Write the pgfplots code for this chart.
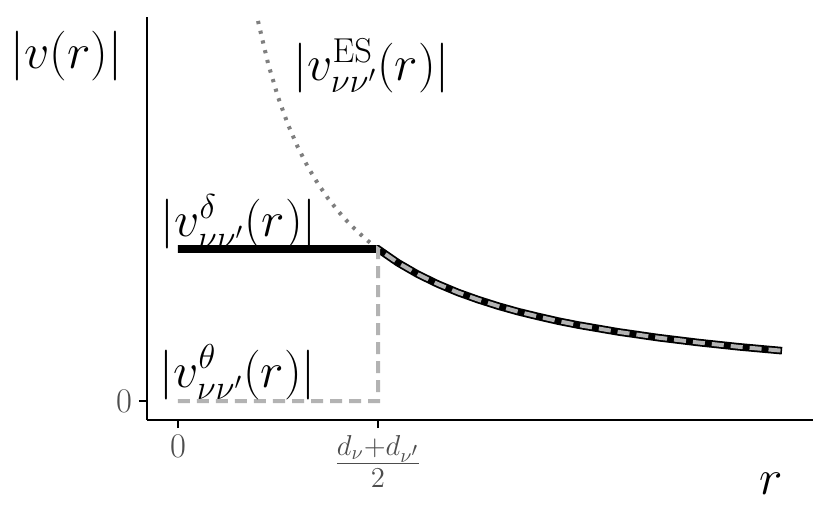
\documentclass[border=0pt]{standalone}
\usepackage{pgfplots}
\pgfplotsset{compat=1.18}
\definecolor{ticklab}{HTML}{4D4D4D}
\definecolor{dotgray}{HTML}{7F7F7F}
\definecolor{dashgray}{HTML}{B3B3B3}

\pgfplotstableread{
r     v
0.40  2.500
0.45  2.222
0.50  2.000
0.55  1.818
0.60  1.667
0.65  1.538
0.70  1.429
0.75  1.333
0.80  1.250
0.85  1.176
0.90  1.111
0.95  1.053
1.00  1.000
1.10  0.909
1.20  0.833
1.30  0.769
1.40  0.714
1.50  0.667
1.60  0.625
1.70  0.588
1.80  0.556
1.90  0.526
2.00  0.500
2.20  0.455
2.40  0.417
2.60  0.385
2.80  0.357
3.02  0.331
}\es

\pgfplotstableread{
r     v
0.00  1.000
1.00  1.000
1.10  0.909
1.20  0.833
1.30  0.769
1.40  0.714
1.50  0.667
1.60  0.625
1.70  0.588
1.80  0.556
1.90  0.526
2.00  0.500
2.20  0.455
2.40  0.417
2.60  0.385
2.80  0.357
3.02  0.331
}\delt

\pgfplotstableread{
r     v
0.00  0.000
1.00  0.000
1.00  1.000
1.10  0.909
1.20  0.833
1.30  0.769
1.40  0.714
1.50  0.667
1.60  0.625
1.70  0.588
1.80  0.556
1.90  0.526
2.00  0.500
2.20  0.455
2.40  0.417
2.60  0.385
2.80  0.357
3.02  0.331
}\thet

\begin{document}
\begin{tikzpicture}
\begin{axis}[
    scale only axis,
    width=333pt, height=201.5pt,
    xmin=-0.155, xmax=3.175,
    ymin=-0.125, ymax=2.526,
    axis x line*=bottom, axis y line*=left,
    axis line style={line width=0.9pt, -},
    xtick={0,1}, ytick={0},
    xticklabels={$0$, {\fontsize{19.5}{22}\selectfont$\frac{d_\nu+d_{\nu'}}{2}$}},
    yticklabels={$0$},
    tick align=outside,
    major tick length=4pt,
    tick style={line width=0.9pt, black},
    tick label style={font=\fontsize{18}{20}\selectfont, text=ticklab},
    clip=false,
]
\addplot[dotgray, line width=2pt, dash pattern=on 1.6pt off 3.4pt] table {\es};
\addplot[black, line width=3.8pt] table {\delt};
\addplot[dashgray, line width=2pt, dash pattern=on 6pt off 3.5pt] table {\thet};

\node[inner sep=0pt, anchor=base west, font=\fontsize{26}{30}\selectfont] at (axis cs:-0.84,2.19) {$|v(r)|$};
\node[inner sep=0pt, anchor=base west, font=\fontsize{25}{28}\selectfont] at (axis cs:0.575,2.11) {$|v^{\mathrm{ES}}_{\nu\nu'}(r)|$};
\node[inner sep=0pt, anchor=base west, font=\fontsize{25}{28}\selectfont] at (axis cs:-0.09,1.08) {$|v^{\delta}_{\nu\nu'}(r)|$};
\node[inner sep=0pt, anchor=base west, font=\fontsize{25}{28}\selectfont] at (axis cs:-0.095,0.092) {$|v^{\theta}_{\nu\nu'}(r)|$};
\node[inner sep=0pt, anchor=base east, font=\fontsize{26}{30}\selectfont] at (axis cs:3.025,-0.618) {$r$};

\coordinate (bl) at (axis description cs:-0.2207,-0.248);
\coordinate (tr) at (axis description cs:1.0255,1.0422);
\end{axis}
\path (bl) rectangle (tr);
\end{tikzpicture}
\end{document}
